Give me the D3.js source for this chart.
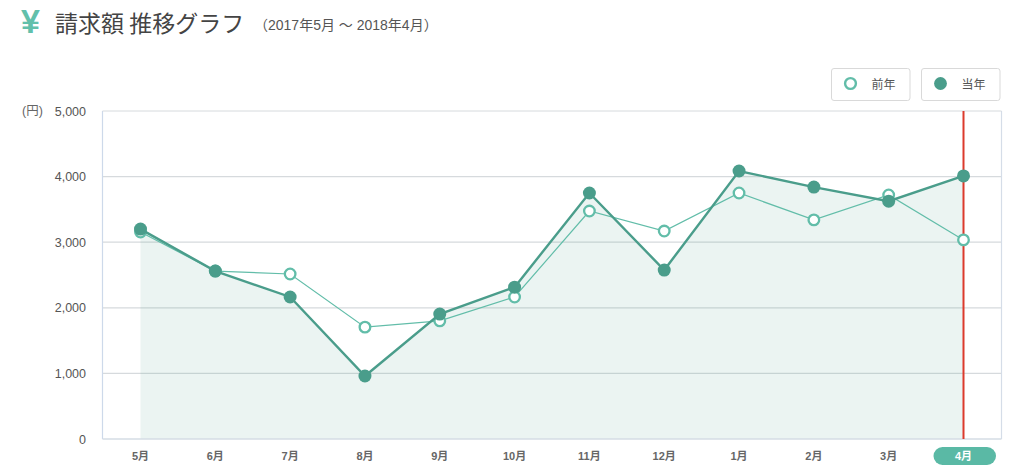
<!DOCTYPE html>
<html lang="ja">
<head>
<meta charset="utf-8">
<script src="https://cdn.jsdelivr.net/npm/d3@7/dist/d3.min.js"></script>
<style>
html,body{margin:0;padding:0;background:#fff;}
svg{display:block;}
text{font-family:"Liberation Sans","Noto Sans CJK JP",sans-serif;}
</style>
</head>
<body>
<svg id="chart" width="1024" height="474"></svg>
<script>
// Monthly billing amounts in yen
const months = ["5月","6月","7月","8月","9月","10月","11月","12月","1月","2月","3月","4月"];
const previousYear = [3155,2560,2515,1705,1800,2165,3475,3170,3750,3340,3720,3035];
const currentYear = [3200,2560,2165,960,1905,2315,3750,2575,4085,3840,3625,4010];
const yTicks = [0,1000,2000,3000,4000,5000];
const legendLabels = ["前年","当年"];

const cur = "#4a9d8b", prev = "#62bda9", grid = "#d6dadd";
const svg = d3.select("#chart");

const x = d3.scalePoint().domain(months).range([140.5,963.5]);
const y = d3.scaleLinear().domain([0,5000]).range([439,111]);
const left = 102.5, right = 1001.5;

// Horizontal grid
svg.append("g").selectAll("line").data(yTicks.slice(1,-1)).join("line")
  .attr("x1",left).attr("x2",right).attr("y1",d=>y(d)).attr("y2",d=>y(d))
  .attr("stroke",grid).attr("stroke-width",1.2);

// Shaded area under the current year
svg.append("path").datum(currentYear)
  .attr("d",d3.area().x((d,i)=>x(months[i])).y0(y(0)).y1(d=>y(d)))
  .attr("fill","#4a9d8b").attr("fill-opacity",0.11);

// Plot frame
svg.append("path")
  .attr("d",`M${left},${y(0)}V${y(5000)}`).attr("stroke","#cdd9ea").attr("stroke-width",1.2).attr("fill","none");
svg.append("path")
  .attr("d",`M${right},${y(0)}V${y(5000)}`).attr("stroke","#d5dde8").attr("stroke-width",1.2).attr("fill","none");
svg.append("path")
  .attr("d",`M${left},${y(5000)}H${right}`).attr("stroke",grid).attr("stroke-width",1).attr("fill","none");
svg.append("path")
  .attr("d",`M${left},${y(0)}H${right}`).attr("stroke","#d5dde5").attr("stroke-width",1.5).attr("fill","none");

// Marker for the latest month
svg.append("line")
  .attr("x1",x("4月")).attr("x2",x("4月")).attr("y1",y(5000)).attr("y2",y(0))
  .attr("stroke","#dc3a2c").attr("stroke-width",2);

const line = d3.line().x((d,i)=>x(months[i])).y(d=>y(d));

// Previous year series
svg.append("path").datum(previousYear).attr("d",line)
  .attr("fill","none").attr("stroke",prev).attr("stroke-width",1.2);
svg.append("g").selectAll("circle").data(previousYear).join("circle")
  .attr("cx",(d,i)=>x(months[i])).attr("cy",d=>y(d)).attr("r",5.3)
  .attr("fill","#fff").attr("stroke",prev).attr("stroke-width",2.3);

// Current year series
svg.append("path").datum(currentYear).attr("d",line)
  .attr("fill","none").attr("stroke",cur).attr("stroke-width",2.4);
svg.append("g").selectAll("circle").data(currentYear).join("circle")
  .attr("cx",(d,i)=>x(months[i])).attr("cy",d=>y(d)).attr("r",6.5)
  .attr("fill",cur);

// Value axis labels
svg.append("g").selectAll("text").data(yTicks).join("text")
  .attr("x",86).attr("y",d=>y(d)+4.5).attr("text-anchor","end")
  .attr("font-size",12.5).attr("fill","#555")
  .text(d3.format(","));
svg.append("text").attr("x",22).attr("y",115).attr("font-size",12.5).attr("fill","#666").text("(円)");

// Month labels, with a pill behind the latest month
svg.append("rect").attr("x",933.5).attr("y",447).attr("width",62.5).attr("height",18).attr("rx",9)
  .attr("fill","#5ab9a5");
svg.append("g").selectAll("text").data(months).join("text")
  .attr("x",d=>x(d)).attr("y",460).attr("text-anchor","middle")
  .attr("font-size",11).attr("font-weight",700)
  .attr("fill",d=>d==="4月"?"#fff":"#666")
  .text(d=>d);

// Legend buttons
const legend = svg.append("g").selectAll("g").data(legendLabels).join("g")
  .attr("transform",(d,i)=>`translate(${i?921.5:831.5},68.5)`);
legend.append("rect").attr("width",78.5).attr("height",32).attr("rx",2.5)
  .attr("fill","#fff").attr("stroke","#d9d9d9");
legend.filter((d,i)=>i===0).append("circle").attr("cx",19).attr("cy",15)
  .attr("r",5.4).attr("fill","#fff").attr("stroke",prev).attr("stroke-width",2.4);
legend.filter((d,i)=>i===1).append("circle").attr("cx",19).attr("cy",15)
  .attr("r",6.4).attr("fill",cur);
legend.append("text").attr("x",40).attr("y",20.5).attr("font-size",12).attr("fill","#555").text(d=>d);

// Heading
svg.append("text").attr("x",21).attr("y",33).attr("font-size",34).attr("font-weight",700)
  .attr("fill","#62c0ab").text("¥");
svg.append("text").attr("x",55).attr("y",32).attr("font-size",23).attr("fill","#444")
  .style("font-family",'"Noto Sans CJK JP",sans-serif').style("font-weight",400).text("請求額 推移グラフ");
svg.append("text").attr("x",254).attr("y",30).attr("font-size",14).attr("fill","#555")
  .text("（2017年5月 〜 2018年4月）");
</script>
</body>
</html>
